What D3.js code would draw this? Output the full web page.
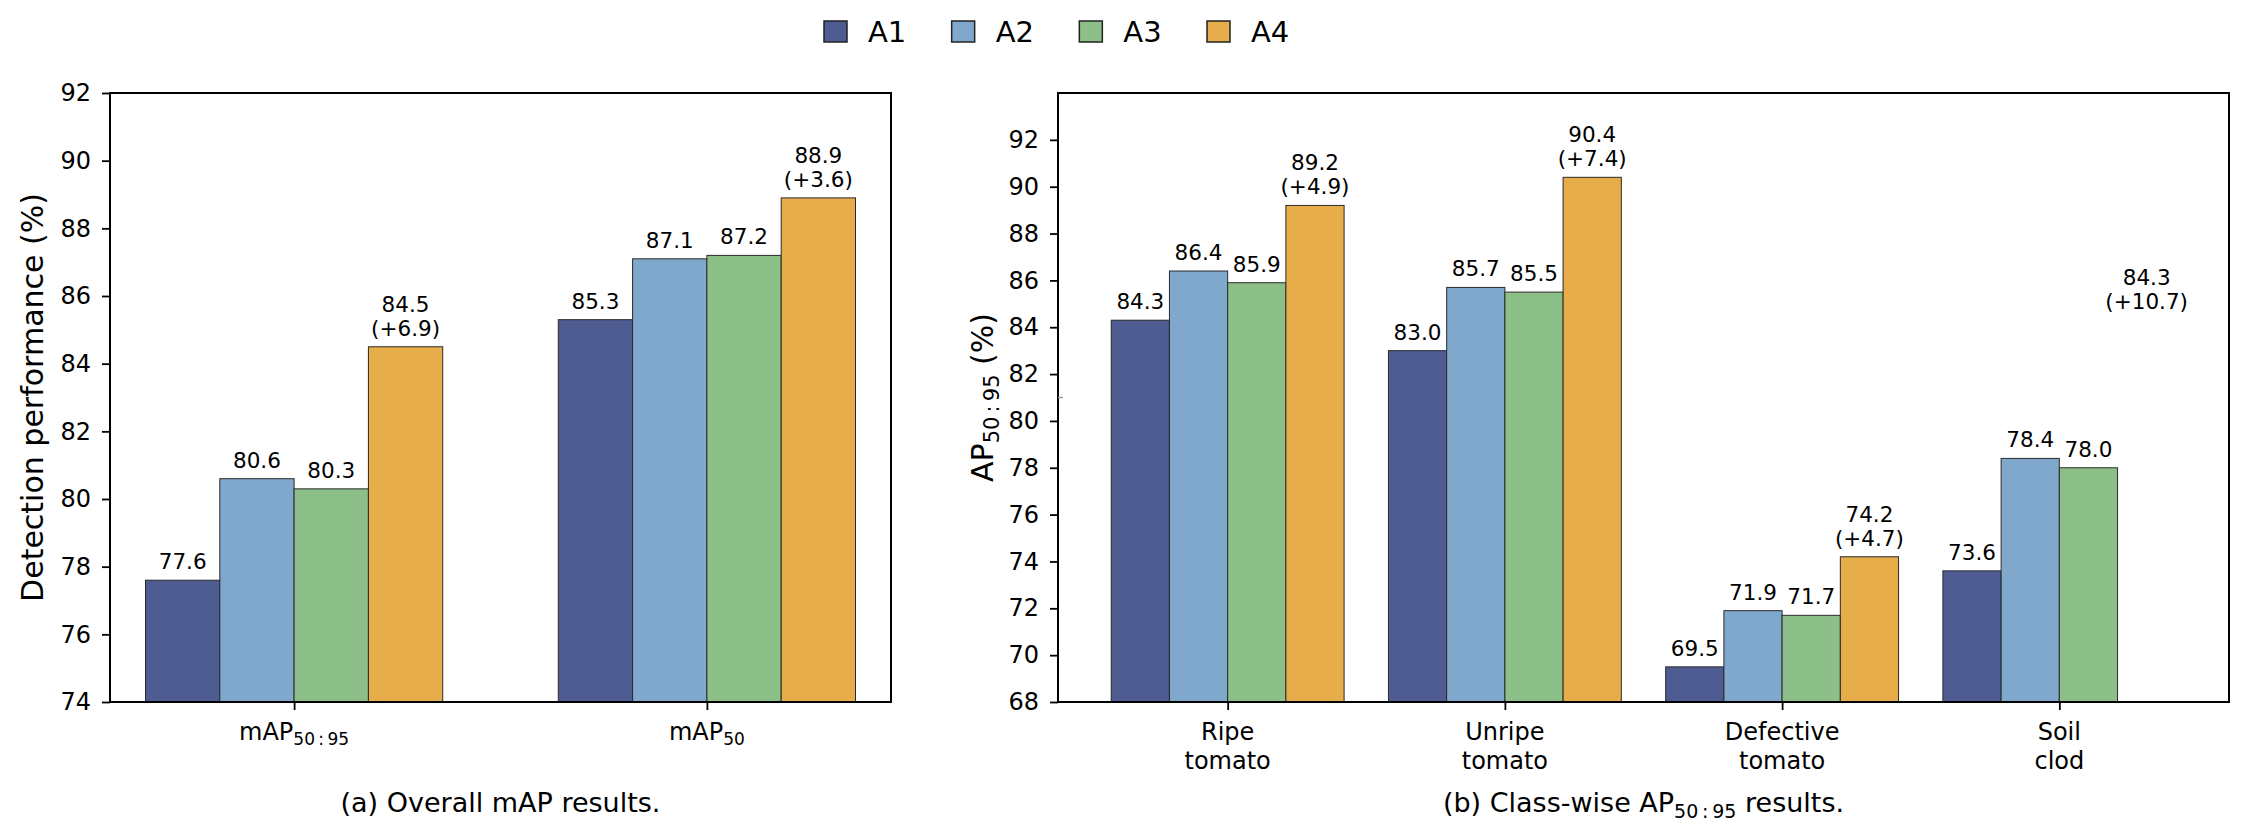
<!DOCTYPE html>
<html><head><meta charset="utf-8">
<script src="https://cdn.jsdelivr.net/npm/d3@7"></script>
<style>
body{margin:0;background:#fff;}
svg{display:block;}
text{font-family:"DejaVu Sans",sans-serif;fill:#000;}
</style>
</head><body>
<svg id="chart" width="2250" height="839"></svg>
<script>
// ---------- data ----------
const seriesNames = ["A1", "A2", "A3", "A4"];
const seriesColors = ["#4E5C92", "#80A8CC", "#8CC088", "#E7AD4B"];

const overallCategoryBase = ["mAP", "mAP"];
const overallCategorySub = ["50\u2009:\u200995", "50"];
const overallA1 = [77.6, 85.3];
const overallA2 = [80.6, 87.1];
const overallA3 = [80.3, 87.2];
const overallA4 = [84.5, 88.9];
const overallGain = ["+6.9", "+3.6"];
const overallTicks = [74, 76, 78, 80, 82, 84, 86, 88, 90, 92];

const classCategoryLine1 = ["Ripe", "Unripe", "Defective", "Soil"];
const classCategoryLine2 = ["tomato", "tomato", "tomato", "clod"];
const classA1 = [84.3, 83.0, 69.5, 73.6];
const classA2 = [86.4, 85.7, 71.9, 78.4];
const classA3 = [85.9, 85.5, 71.7, 78.0];
const classA4 = [89.2, 90.4, 74.2, 84.3];
const classGain = ["+4.9", "+7.4", "+4.7", "+10.7"];
const classA4Drawn = [true, true, true, false];
const classTicks = [68, 70, 72, 74, 76, 78, 80, 82, 84, 86, 88, 90, 92];

// ---------- drawing ----------
const svg = d3.select("#chart");

function drawPanel(cfg) {
  const g = svg.append("g");
  const x = d3.scaleLinear().domain(cfg.xDomain).range([cfg.left, cfg.right]);
  const y = d3.scaleLinear().domain(cfg.yDomain).range([cfg.bottom, cfg.top]);
  const bw = cfg.barWidth;
  const bwPx = x(bw) - x(0);

  // bars
  cfg.series.forEach((vals, j) => {
    vals.forEach((v, i) => {
      const drawn = cfg.drawn[j] ? cfg.drawn[j][i] : true;
      const cx = i + (j - 1.5) * bw;
      if (drawn) {
        g.append("rect")
          .attr("x", x(cx) - bwPx / 2)
          .attr("y", y(v))
          .attr("width", bwPx)
          .attr("height", y(cfg.yDomain[0]) - y(v))
          .attr("fill", seriesColors[j])
          .attr("stroke", "#2a2a2a")
          .attr("stroke-width", 1);
      }
      // value labels
      const tx = x(cx);
      const base = y(v) - 11;
      if (j === 3) {
        g.append("text").attr("x", tx).attr("y", base - 24)
          .attr("text-anchor", "middle").attr("font-size", 21.5).text(v.toFixed(1));
        g.append("text").attr("x", tx).attr("y", base)
          .attr("text-anchor", "middle").attr("font-size", 21.5).text("(" + cfg.gain[i] + ")");
      } else {
        g.append("text").attr("x", tx).attr("y", base)
          .attr("text-anchor", "middle").attr("font-size", 21.5).text(v.toFixed(1));
      }
    });
  });

  // y axis
  const yAxis = g.append("g").attr("transform", `translate(${cfg.left},0)`)
    .call(d3.axisLeft(y).tickValues(cfg.yTicks).tickSize(8).tickSizeOuter(0).tickPadding(11).tickFormat(d3.format("d")));
  yAxis.selectAll("text").attr("font-size", 24).attr("font-family", "DejaVu Sans");
  yAxis.selectAll("line").attr("stroke-width", 1.8);
  yAxis.select(".domain").remove();

  // x axis
  const xAxis = g.append("g").attr("transform", `translate(0,${cfg.bottom})`)
    .call(d3.axisBottom(x).tickValues(d3.range(cfg.nCats)).tickSize(8).tickSizeOuter(0).tickFormat(""));
  xAxis.selectAll("line").attr("stroke-width", 1.8);
  xAxis.select(".domain").remove();
  cfg.tickLabel(xAxis, x);

  // frame (spines)
  g.append("rect").attr("x", cfg.left).attr("y", cfg.top)
    .attr("width", cfg.right - cfg.left).attr("height", cfg.bottom - cfg.top)
    .attr("fill", "none").attr("stroke", "#000").attr("stroke-width", 2);

  return { g, x, y };
}

// panel (a)
const pa = drawPanel({
  left: 110, right: 891, top: 93, bottom: 702,
  xDomain: [-0.446, 1.446], yDomain: [74, 92], yTicks: overallTicks,
  barWidth: 0.18, nCats: 2,
  series: [overallA1, overallA2, overallA3, overallA4],
  drawn: [null, null, null, null],
  gain: overallGain,
  tickLabel: (ax, x) => {
    overallCategoryBase.forEach((b, i) => {
      const t = ax.append("text").attr("x", x(i)).attr("y", 38)
        .attr("text-anchor", "middle").attr("font-size", 24);
      t.append("tspan").text(b);
      t.append("tspan").attr("font-size", 17).attr("dy", 5).text(overallCategorySub[i]);
    });
  }
});

// panel (b)
const pb = drawPanel({
  left: 1058, right: 2229, top: 93, bottom: 702,
  xDomain: [-0.612, 3.612], yDomain: [68, 94], yTicks: classTicks,
  barWidth: 0.21, nCats: 4,
  series: [classA1, classA2, classA3, classA4],
  drawn: [null, null, null, classA4Drawn],
  gain: classGain,
  tickLabel: (ax, x) => {
    classCategoryLine1.forEach((l1, i) => {
      ax.append("text").attr("x", x(i)).attr("y", 38)
        .attr("text-anchor", "middle").attr("font-size", 24).text(l1);
      ax.append("text").attr("x", x(i)).attr("y", 66.5)
        .attr("text-anchor", "middle").attr("font-size", 24).text(classCategoryLine2[i]);
    });
  }
});

// small grey mark on the right panel's left spine
svg.append("line").attr("x1", 1058).attr("x2", 1063).attr("y1", 397.5).attr("y2", 397.5)
  .attr("stroke", "#999").attr("stroke-width", 1.5);

// y labels
svg.append("text").attr("transform", "translate(43,397.5) rotate(-90)")
  .attr("text-anchor", "middle").attr("font-size", 30).text("Detection performance (%)");
const yl = svg.append("text").attr("transform", "translate(993,397.5) rotate(-90)")
  .attr("text-anchor", "middle").attr("font-size", 30);
yl.append("tspan").text("AP");
yl.append("tspan").attr("font-size", 21).attr("dy", 6).text("50\u2009:\u200995");
yl.append("tspan").attr("dy", -6).text(" (%)");

// captions
svg.append("text").attr("x", 500.5).attr("y", 812).attr("text-anchor", "middle")
  .attr("font-size", 27).text("(a) Overall mAP results.");
const cb = svg.append("text").attr("x", 1643.5).attr("y", 812).attr("text-anchor", "middle")
  .attr("font-size", 27);
cb.append("tspan").text("(b) Class-wise AP");
cb.append("tspan").attr("font-size", 19).attr("dy", 6).text("50\u2009:\u200995");
cb.append("tspan").attr("dy", -6).text(" results.");

// legend
const legendX = d3.scaleLinear().domain([0, 3]).range([824, 1207]);
seriesNames.forEach((name, j) => {
  const lx = legendX(j);
  svg.append("rect").attr("x", lx).attr("y", 21).attr("width", 23).attr("height", 21)
    .attr("fill", seriesColors[j]).attr("stroke", "#222").attr("stroke-width", 1.5);
  svg.append("text").attr("x", lx + 44).attr("y", 42).attr("font-size", 29).text(name);
});
</script>
</body></html>
